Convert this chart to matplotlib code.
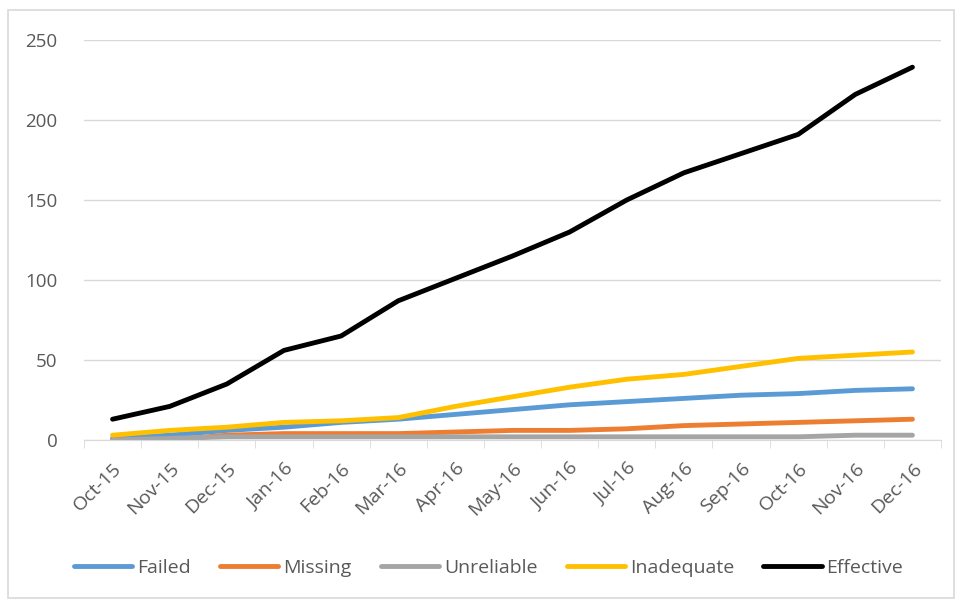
import matplotlib.pyplot as plt
import numpy as np
from matplotlib.patches import Rectangle

months = ['Oct-15', 'Nov-15', 'Dec-15', 'Jan-16', 'Feb-16', 'Mar-16', 'Apr-16', 'May-16',
          'Jun-16', 'Jul-16', 'Aug-16', 'Sep-16', 'Oct-16', 'Nov-16', 'Dec-16']

failed = [1, 3, 6, 8, 11, 13, 16, 19, 22, 24, 26, 28, 29, 31, 32]
missing = [0, 0, 3, 4, 4, 4, 5, 6, 6, 7, 9, 10, 11, 12, 13]
unreliable = [0, 1, 2, 2, 2, 2, 2, 2, 2, 2, 2, 2, 2, 3, 3]
inadequate = [3, 6, 8, 11, 12, 14, 21, 27, 33, 38, 41, 46, 51, 53, 55]
effective = [13, 21, 35, 56, 65, 87, 101, 115, 130, 150, 167, 179, 191, 216, 233]

plt.rcParams['font.family'] = ['Open Sans', 'DejaVu Sans']
text_color = '#595959'

fig = plt.figure(figsize=(9.58, 6), dpi=100)
ax = fig.add_axes([84 / 958, 1 - 440 / 600, 857 / 958, 400 / 600])

x = np.arange(len(months))
ax.plot(x, failed, color='#5B9BD5', lw=3.5, label='Failed', solid_capstyle='round')
ax.plot(x, missing, color='#ED7D31', lw=3.5, label='Missing', solid_capstyle='round')
ax.plot(x, unreliable, color='#A5A5A5', lw=3.5, label='Unreliable', solid_capstyle='round')
ax.plot(x, inadequate, color='#FFC000', lw=3.5, label='Inadequate', solid_capstyle='round')
ax.plot(x, effective, color='#000000', lw=3.5, label='Effective', solid_capstyle='round')

ax.set_xlim(-0.5, len(months) - 0.5)
ax.set_ylim(0, 250)
ax.set_yticks(np.arange(0, 251, 50))
ax.set_xticks(x)
ax.set_xticklabels(months, rotation=45, ha='right', rotation_mode='anchor')
ax.set_xticks(np.arange(-0.5, len(months), 1), minor=True)
ax.tick_params(axis='x', which='major', length=0, pad=14, labelsize=14, colors=text_color)
ax.tick_params(axis='x', which='minor', length=6, color='#D9D9D9', direction='out')
ax.tick_params(axis='y', length=0, labelsize=13.5, colors=text_color, pad=19)

ax.grid(axis='y', color='#D9D9D9', lw=1)
ax.set_axisbelow(True)
for s in ['top', 'right', 'left']:
    ax.spines[s].set_visible(False)
ax.spines['bottom'].set_color('#D9D9D9')

# legend along the bottom, like the Excel chart
leg = fig.legend(loc='center', bbox_to_anchor=(0.51, 1 - 568 / 600), ncol=5, frameon=False,
                 fontsize=14, handlelength=3.0, columnspacing=1.5, handletextpad=0.25)
for t in leg.get_texts():
    t.set_color(text_color)

fig.patches.append(Rectangle((0.008, 0.004), 0.988, 0.98, transform=fig.transFigure,
                             fill=False, edgecolor='#D9D9D9', lw=1.2))

fig.savefig('out.png', dpi=100)
